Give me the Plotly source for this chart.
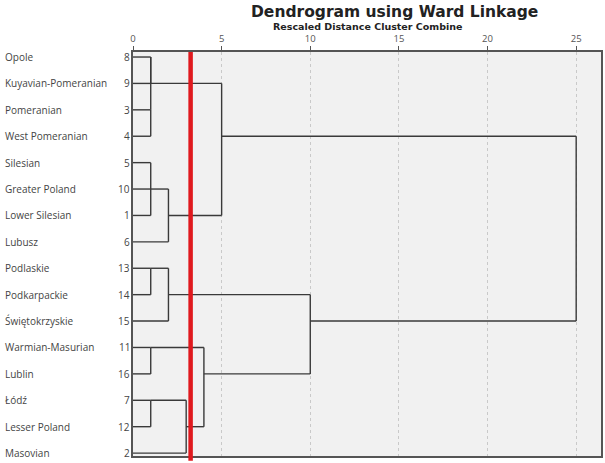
import plotly.graph_objects as go

# Leaves (top to bottom) and their case numbers
region_names = ["Opole", "Kuyavian-Pomeranian", "Pomeranian", "West Pomeranian", "Silesian",
                "Greater Poland", "Lower Silesian", "Lubusz", "Podlaskie", "Podkarpackie",
                "Świętokrzyskie", "Warmian-Masurian", "Lublin", "Łódź", "Lesser Poland", "Masovian"]
case_ids = [8, 9, 3, 4, 5, 10, 1, 6, 13, 14, 15, 11, 16, 7, 12, 2]

# Agglomeration schedule (ints = case ids, "Mk" = k-th merge), rescaled distances 0-25
merge_left = [8, 3, "M1", 5, "M4", "M5", "M3", 13, "M8", 11, 7, "M11", "M10", "M9", "M7"]
merge_right = [9, 4, "M2", 1, 10, 6, "M6", 14, 15, 16, 12, 2, "M12", "M13", "M14"]
merge_dist = [1.0, 1.0, 1.0, 1.0, 1.0, 2.0, 5.0, 1.0, 2.0, 1.0, 1.0, 3.0, 4.0, 10.0, 25.0]

cut_distance = 3.25
x_ticks = [0, 5, 10, 15, 20, 25]

# Build dendrogram segments (SPSS style: cluster row = floor of mean of child rows)
nodes = {cid: (i, 0.0) for i, cid in enumerate(case_ids)}
xs, ys = [], []
for k, (a, b, d) in enumerate(zip(merge_left, merge_right, merge_dist), start=1):
    ra, ha = nodes[a]
    rb, hb = nodes[b]
    xs += [ha, d, None, hb, d, None, d, d, None]
    ys += [ra, ra, None, rb, rb, None, ra, rb, None]
    nodes["M%d" % k] = ((ra + rb) // 2, d)

fig = go.Figure()
fig.add_trace(go.Scatter(x=xs, y=ys, mode="lines",
                         line=dict(color="#3a3a3a", width=1.4),
                         hoverinfo="skip", showlegend=False))

fig.add_shape(type="line", xref="x", yref="paper", x0=cut_distance, x1=cut_distance,
              y0=-0.012, y1=1.0, line=dict(color="#e0191e", width=4.5), layer="above")

annotations = []
for i, (nm, cid) in enumerate(zip(region_names, case_ids)):
    annotations.append(dict(text=nm, x=-0.278, xref="paper", y=i, yref="y",
                            xanchor="left", yanchor="middle", showarrow=False,
                            font=dict(family="Open Sans", size=10, color="#444")))
    annotations.append(dict(text=str(cid), x=-0.003, xref="paper", y=i, yref="y",
                            xanchor="right", yanchor="middle", showarrow=False,
                            font=dict(family="Open Sans", size=10, color="#444")))

plot_top, plot_bottom = 52, 456
def py(pix):
    return 1 + (plot_top - pix) / (plot_bottom - plot_top)

annotations.append(dict(text="<b>Dendrogram using Ward Linkage</b>", x=0.558, xref="paper",
                        y=py(12), yref="paper", yanchor="middle", xanchor="center",
                        showarrow=False, font=dict(family="DejaVu Sans", size=15.5, color="#222")))
annotations.append(dict(text="<b>Rescaled Distance Cluster Combine</b>", x=0.5, xref="paper",
                        y=py(27), yref="paper", yanchor="middle", xanchor="center",
                        showarrow=False, font=dict(family="DejaVu Sans", size=9.5, color="#222")))

fig.update_layout(
    width=605, height=463,
    margin=dict(l=133, r=2, t=52, b=7),
    paper_bgcolor="white",
    plot_bgcolor="#f1f1f1",
    annotations=annotations,
    xaxis=dict(range=[0, 26.4], side="top", tickvals=x_ticks,
               ticks="outside", ticklen=4, tickcolor="#555",
               tickfont=dict(family="Open Sans", size=9.5, color="#555"),
               showgrid=True, gridcolor="#c9c9c9", griddash="dot", gridwidth=1,
               zeroline=False, showline=True, linecolor="#555", linewidth=1.5, mirror=True),
    yaxis=dict(range=[15.11, -0.19], showticklabels=False, showgrid=False, zeroline=False,
               showline=True, linecolor="#555", linewidth=1.5, mirror=True),
)

fig.write_html("out.html", config={"displayModeBar": False},
               post_script="document.body.style.margin='0';document.body.style.overflow='hidden';")
